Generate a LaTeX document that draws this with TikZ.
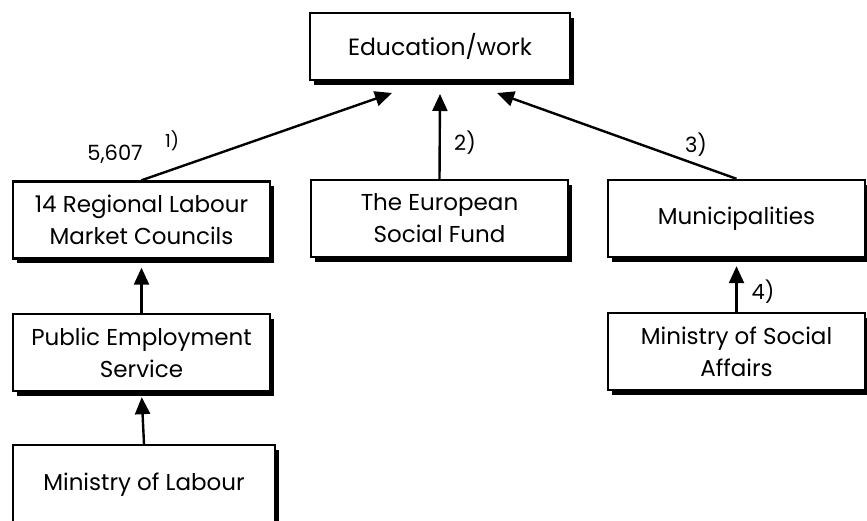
\documentclass[tikz,border=0pt]{standalone}
\usepackage{fontspec}
\setmainfont{Poppins}
\usetikzlibrary{arrows.meta,shadows}

\begin{document}
\begin{tikzpicture}[x=1pt, y=-1pt,
    box/.style={draw, line width=2.4pt, fill=white, minimum width=257pt, minimum height=77pt,
      align=center, font=\fontsize{23}{32}\selectfont,
      drop shadow={shadow xshift=4pt, shadow yshift=-5pt, fill=black, opacity=1}},
    flow/.style={line width=2.4pt, -{Triangle[length=17pt, width=15pt]}},
    lbl/.style={font=\fontsize{21}{24}\selectfont}]
            \useasboundingbox (0,0) rectangle (867,521);
            \node[box, minimum width=260pt, minimum height=67pt, font=\fontsize{23.5}{28}\selectfont] (edu) at (440,46.5) {Education/work};
            \node[box] (rlmc) at (141.5,220) {14 Regional Labour\\Market Councils};
            \node[box] (esf) at (439.5,218.5) {The European\\Social Fund};
            \node[box] (mun) at (736.5,218.5) {Municipalities};
            \node[box] (pes) at (141.5,352.5) {Public Employment\\Service};
            \node[box] (mss) at (736.5,351.5) {Ministry of Social\\Affairs};
            \node[box, minimum width=262pt, minimum height=80pt] (mol) at (144,485) {Ministry of Labour};
            \coordinate (t1) at (392,93);
            \coordinate (t2) at (440,94);
            \coordinate (t3) at (497,93);
            \draw[flow] (rlmc.north) -- (t1);
            \draw[flow] (esf.north) -- (t2);
            \draw[flow] (mun.north) -- (t3);
            \draw[flow, shorten >=8pt] (pes.north) -- (rlmc.south);
            \draw[flow, shorten >=5pt] (mol.north) -- (pes.south);
            \draw[flow, shorten >=8pt] (mss.north) -- (mun.south);
            \node[lbl] (v5607) at (115,154) {5,607};
            \node[lbl, font=\fontsize{18}{20}\selectfont] (f1) at (172,141) {1)};
            \node[lbl] (f2) at (465,143) {2)};
            \node[lbl] (f3) at (696,145) {3)};
            \node[lbl] (f4) at (763,292) {4)};
            \end{tikzpicture}
\end{document}
